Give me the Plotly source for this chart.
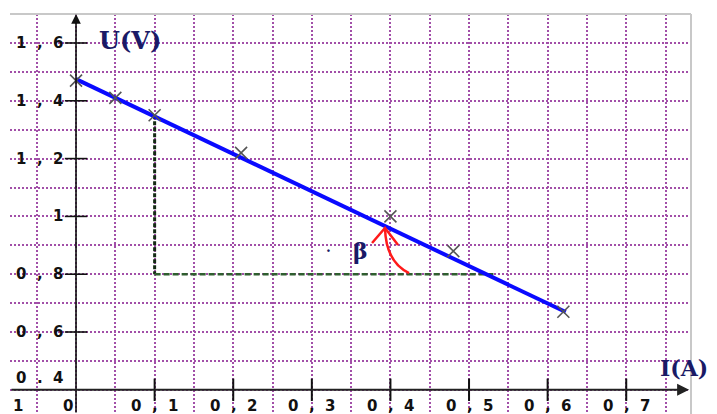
import plotly.graph_objects as go

# ---- data ----
I_meas = [0.0, 0.05, 0.10, 0.21, 0.40, 0.48, 0.62]
U_meas = [1.47, 1.41, 1.35, 1.22, 1.00, 0.88, 0.67]

I_fit = [0.0, 0.623]
U_fit = [1.475, 0.669]

I_ticks = [0.1, 0.2, 0.3, 0.4, 0.5, 0.6, 0.7]
I_labels = ["0", "1", "2", "3", "4", "5", "6", "7"]
U_ticks = [1.6, 1.4, 1.2, 1.0, 0.8, 0.6]
U_labels = ["1 , 6", "1 , 4", "1 , 2", "1", "0 , 8", "0 , 6"]

# construction lines (pente)
I_v = [0.1, 0.1]
U_v = [1.35, 0.80]
I_h = [0.1, 0.531]
U_h = [0.80, 0.80]

NB = "\u00a0"
def spaced(t):
    return t.replace(" ", NB * 2)

fig = go.Figure()

# construction dashed lines
fig.add_trace(go.Scatter(x=I_v, y=U_v, mode="lines",
                         line=dict(color="#142a14", width=3, dash="4px,2px"),
                         hoverinfo="skip", showlegend=False))
fig.add_trace(go.Scatter(x=I_h, y=U_h, mode="lines",
                         line=dict(color="#2f5e2f", width=2.5, dash="6px,3px"),
                         hoverinfo="skip", showlegend=False))

# fitted line
fig.add_trace(go.Scatter(x=I_fit, y=U_fit, mode="lines",
                         line=dict(color="#0a0aff", width=4),
                         hoverinfo="skip", showlegend=False))

# measured points
fig.add_trace(go.Scatter(x=I_meas, y=U_meas, mode="markers",
                         marker=dict(symbol="x-thin", size=12,
                                     line=dict(color="#555555", width=1.6)),
                         showlegend=False))

# tick marks
fig.add_trace(go.Scatter(x=[0] * len(U_ticks), y=U_ticks, mode="markers",
                         marker=dict(symbol="line-ew", size=16,
                                     line=dict(color="#111111", width=1.6)),
                         hoverinfo="skip", showlegend=False))
fig.add_trace(go.Scatter(x=I_ticks, y=[0.4] * len(I_ticks), mode="markers",
                         marker=dict(symbol="line-ns", size=16,
                                     line=dict(color="#111111", width=2)),
                         hoverinfo="skip", showlegend=False))

lab_font = dict(family="DejaVu Sans", size=15, color="#111111")
ann = []
# y labels
for u, t in zip(U_ticks, U_labels):
    ann.append(dict(x=0, y=u, xref="x", yref="y", text="<b>" + spaced(t) + "</b>",
                    showarrow=False, xanchor="right", yanchor="middle",
                    xshift=-11, font=lab_font))
ann.append(dict(x=0, y=0.4, xref="x", yref="y", text="<b>" + spaced("0 . 4") + "</b>",
                showarrow=False, xanchor="right", yanchor="middle",
                xshift=-11, yshift=12, font=lab_font))
# x labels
for i, k in zip(I_ticks, I_labels[1:]):
    ann.append(dict(x=i, y=0.4, xref="x", yref="y",
                    text="<b>0" + NB * 2 + "," + NB * 2 + k + "</b>",
                    showarrow=False, xanchor="center", yanchor="middle",
                    yshift=-16, font=lab_font))
ann.append(dict(x=0, y=0.4, xref="x", yref="y", text="<b>0</b>", showarrow=False,
                xanchor="center", yanchor="middle", xshift=-8, yshift=-16, font=lab_font))
ann.append(dict(x=-0.074, y=0.4, xref="x", yref="y", text="<b>1</b>", showarrow=False,
                xanchor="center", yanchor="middle", yshift=-16, font=lab_font))

# axes with arrows
ann.append(dict(x=0, y=1.70, ax=0, ay=0.3163, xref="x", yref="y", axref="x", ayref="y",
                showarrow=True, arrowhead=2, arrowsize=1.2, arrowwidth=1.6,
                arrowcolor="#111111", text=""))
ann.append(dict(x=0.78, y=0.4, ax=-0.084, ay=0.4, xref="x", yref="y", axref="x", ayref="y",
                showarrow=True, arrowhead=2, arrowsize=1.2, arrowwidth=2,
                arrowcolor="#222222", text=""))

title_font = dict(family="DejaVu Serif", size=24, color="#1a1a66")
ann.append(dict(x=0.0687, y=1.610, xref="x", yref="y", text="<b>U(V)</b>",
                showarrow=False, xanchor="center", yanchor="middle", font=title_font))
ann.append(dict(x=0.7405, y=0.4754, xref="x", yref="y", text="<b>I(A)</b>",
                showarrow=False, xanchor="left", yanchor="middle",
                font=dict(family="DejaVu Serif", size=22, color="#1a1a66")))
ann.append(dict(x=0.3613, y=0.8803, xref="x", yref="y", text="<b>β</b>",
                showarrow=False, xanchor="center", yanchor="middle",
                font=dict(family="DejaVu Serif", size=22, color="#1a1a66")))
ann.append(dict(x=0.3206, y=0.8595, xref="x", yref="y", text="<b>.</b>",
                showarrow=False, xanchor="center", yanchor="bottom",
                font=dict(family="DejaVu Serif", size=14, color="#1a1a66")))

shapes = [
    # red angle arrow
    dict(type="path", xref="x", yref="y",
         path="M 0.4237 0.804 Q 0.3944 0.842 0.3931 0.958",
         line=dict(color="#ff1a1a", width=2.5)),
    dict(type="path", xref="x", yref="y",
         path="M 0.3766 0.908 L 0.3931 0.960 L 0.4097 0.901",
         line=dict(color="#ff1a1a", width=2.5)),
    # frame (top and right)
    dict(type="line", xref="paper", yref="paper", x0=0.01395, x1=0.96374,
         y0=0.96618, y1=0.96618, line=dict(color="#c8c8c8", width=2)),
    dict(type="line", xref="paper", yref="paper", x0=0.96374, x1=0.96374,
         y0=0.0, y1=0.96618, line=dict(color="#c8c8c8", width=2)),
]

grid_col = "#a24fa8"
fig.update_layout(
    width=717, height=414, margin=dict(l=0, r=0, t=0, b=0),
    paper_bgcolor="white", plot_bgcolor="white",
    showlegend=False, annotations=ann, shapes=shapes,
    xaxis=dict(domain=[0.01395, 0.96374], range=[-0.0840, 0.7824],
               showgrid=True, dtick=0.05, tick0=0, gridcolor=grid_col,
               gridwidth=2, griddash="2px,2px", zeroline=False,
               showticklabels=False, ticks="", showline=False, fixedrange=True),
    yaxis=dict(domain=[0.0, 0.96618], range=[0.3163, 1.7003],
               showgrid=True, dtick=0.1, tick0=0.4, gridcolor=grid_col,
               gridwidth=2, griddash="2px,2px", zeroline=False,
               showticklabels=False, ticks="", showline=False, fixedrange=True),
)

fig.write_html("out.html", config={"displayModeBar": False},
               post_script="document.body.style.margin='0';document.body.style.overflow='hidden';")
